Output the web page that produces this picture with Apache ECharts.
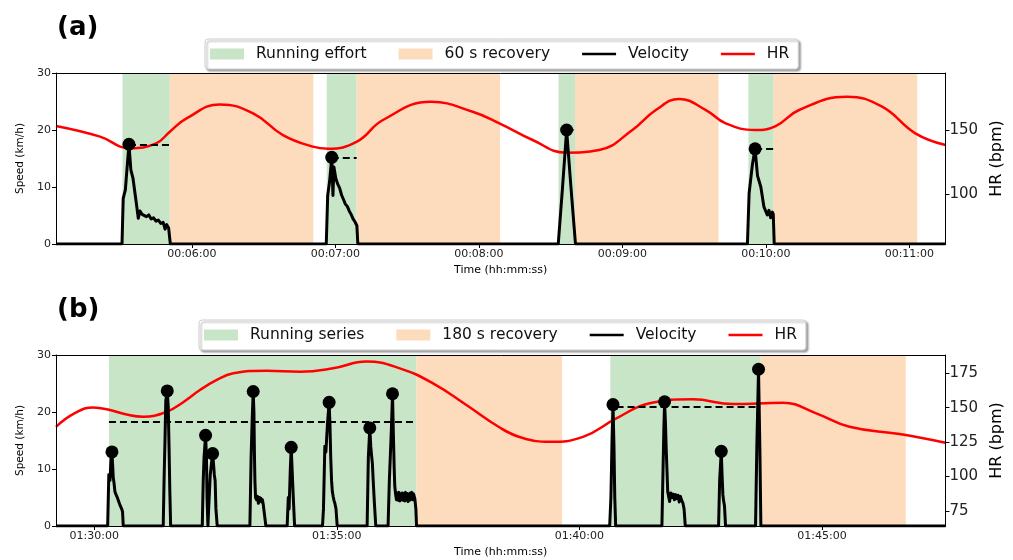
<!DOCTYPE html>
<html>
<head>
<meta charset="utf-8">
<script src="https://cdn.jsdelivr.net/npm/echarts@6/dist/echarts.min.js"></script>
<style>
  html, body { margin: 0; padding: 0; background: #fff; }
  #chart { width: 1013px; height: 560px; }
</style>
</head>
<body>
<div id="chart"></div>
<script>
// panel (a): single efforts, time in seconds
const rangeA = [303.2, 675.1];
const ticksA = [360, 420, 480, 540, 600, 660];
const effortA = [[331, 350.8], [416.4, 428.9], [513.3, 520.2], [592.7, 603.3]];
const recoveryA = [[350.8, 410.8], [428.9, 488.9], [520.2, 580.2], [603.3, 663.3]];
const velocityA = [
  [303.2, 0], [330.8, 0], [331.3, 8], [332.2, 9.5], [333.7, 17.5], [334.5, 13], [335.4, 11.5],
  [336.2, 9], [337.0, 6.5], [337.6, 4.5], [338.3, 5.8], [339.2, 5.2], [340.0, 5.5], [341.0, 4.8],
  [342.0, 5.1], [343.0, 4.4], [344.0, 4.6], [345.0, 4.0], [346.0, 4.2], [347.0, 3.6], [348.0, 3.8],
  [348.8, 2.6], [349.5, 3.4], [350.3, 2.8], [351.0, 0],
  [416.2, 0], [416.8, 8.5], [417.6, 11], [418.5, 15.2], [419.0, 8.5], [419.4, 13.5], [420.2, 11.5],
  [421.0, 10.5], [421.8, 9.8], [422.6, 8.6], [423.4, 7.8], [424.2, 7.0], [425.0, 6.6], [425.8, 5.8],
  [426.6, 5.2], [427.4, 4.4], [428.2, 3.9], [429.0, 3.2], [429.4, 0],
  [513.2, 0], [515.0, 10], [516.7, 20], [518.5, 10], [520.4, 0],
  [592.3, 0], [593.0, 8.9], [594.4, 14], [595.5, 16.7], [596.5, 12], [597.9, 10], [599.2, 6.5],
  [600.6, 5.1], [601.3, 5.9], [602.0, 4.6], [602.7, 5.6], [603.1, 5.2], [603.5, 0], [675.1, 0]
];
const peaksA = [[333.7, 17.5], [418.5, 15.2], [516.7, 20], [595.5, 16.7]];
const meanA = [[333.7, 350.8, 17.5], [418.5, 428.9, 15.2], [516.7, 520.2, 20], [595.5, 603.3, 16.7]];
const hrA = [
  [303.2, 153.1], [321.6, 144.8], [334.1, 135.7], [345, 139.5], [350.8, 148.7], [357.8, 159],
  [371.7, 170], [385.6, 163], [398.1, 146], [410.6, 137], [416.9, 135.4], [429, 140.9],
  [439.9, 157.8], [460, 172], [477.4, 164.3], [488.6, 155.2], [502.5, 142.2], [516.4, 132.3],
  [530.3, 134.4], [544.2, 150], [554, 165.6], [563.7, 174.2], [574.9, 165.6], [583.2, 155.2],
  [595.5, 150], [604.1, 153.1], [613.9, 165.6], [633.8, 176], [648.6, 168.2], [662.5, 147.4],
  [675.1, 138.3]
];

// panel (b): running series
const rangeB = [5352.7, 6452.8];
const ticksB = [5400, 5700, 6000, 6300];
const effortB = [[5418.2, 5798.6], [6038.3, 6223.7]];
const recoveryB = [[5798.6, 5978.6], [6223.7, 6403.7]];
const velocityB = [
  [5352.7, 0], [5416.6, 0], [5418.0, 9], [5419.5, 8], [5420.8, 12], [5421.9, 13], [5423.0, 10],
  [5423.5, 8.5], [5424.5, 7.5], [5425.6, 6], [5427.0, 5.5], [5428.5, 5], [5429.7, 4.5],
  [5431.5, 3.8], [5433.9, 3], [5435.0, 2.5], [5435.9, 0],
  [5485.3, 0], [5486.5, 9], [5487.5, 15], [5488.5, 22], [5490.3, 23.7], [5491.5, 21], [5492.5, 14],
  [5493.5, 6], [5494.5, 0],
  [5533.6, 0], [5534.8, 8], [5535.8, 12], [5537.7, 15.9], [5538.8, 12], [5539.5, 5], [5540.6, 0],
  [5541.5, 3], [5542.5, 6], [5543.5, 9], [5545.0, 11], [5546.4, 12.7], [5547.5, 11], [5548.5, 9],
  [5549.5, 8], [5550.5, 3], [5552.1, 0],
  [5592.5, 0], [5594.0, 12], [5595.4, 19], [5596.6, 23.6], [5597.5, 20], [5598.2, 12], [5598.7, 8],
  [5599.5, 5], [5600.8, 4.6], [5602.0, 5.2], [5603.0, 4.0], [5604.0, 5.0], [5605.0, 4.4],
  [5606.0, 4.9], [5607.0, 4.2], [5608.0, 4.6], [5609.0, 3.8], [5610.5, 3.5], [5612.3, 0],
  [5638.6, 0], [5640.0, 5], [5641.0, 3], [5642.5, 10], [5643.6, 13.8], [5645.0, 9], [5646.5, 4],
  [5647.8, 0],
  [5682.3, 0], [5683.5, 3], [5685.2, 14], [5686.5, 13], [5687.3, 15], [5688.5, 18], [5690.5, 21.7],
  [5691.5, 18], [5692.5, 12], [5693.5, 8], [5694.5, 6], [5695.5, 5.2], [5696.5, 4.5], [5697.6, 4],
  [5699.0, 3], [5700.5, 0],
  [5737.5, 0], [5739.0, 12], [5740.8, 17.2], [5742.0, 14], [5742.9, 12.5], [5744.0, 11],
  [5745.0, 8], [5746.5, 4], [5748.2, 0],
  [5763.4, 0], [5765.0, 8], [5766.4, 13], [5767.5, 17], [5768.9, 23.2], [5770.0, 16], [5771.0, 10],
  [5771.7, 7], [5772.8, 5.5], [5773.8, 4.6], [5775, 5.8], [5776, 4.5], [5777, 5.9], [5778, 4.4],
  [5779, 5.6], [5780, 4.6], [5781, 5.8], [5782, 4.5], [5783, 5.7], [5784, 4.4], [5785, 5.9],
  [5786, 4.6], [5787, 5.7], [5788, 4.3], [5789, 5.6], [5790, 4.5], [5791, 5.8], [5792, 4.7],
  [5793, 5.9], [5794, 4.6], [5795, 5.6], [5796.5, 4.8], [5797.8, 3], [5798.6, 0],
  [6037.5, 0], [6039.0, 5], [6040.3, 14], [6041.6, 21.3], [6042.8, 14], [6043.8, 5], [6044.9, 0],
  [6102.1, 0], [6103.5, 10], [6104.5, 17], [6105.4, 21.8], [6106.5, 18], [6107.3, 14],
  [6108.3, 10], [6109.3, 6], [6110.4, 5.2], [6111.6, 4.3], [6113, 5.8], [6114.5, 5.0], [6116, 5.6],
  [6117.5, 4.6], [6119, 5.5], [6120.5, 4.8], [6122, 5.4], [6123.5, 4.2], [6125, 5.2],
  [6126.5, 4.5], [6128.1, 4.0], [6129.5, 3], [6131, 0],
  [6172.2, 0], [6173.5, 8], [6175.5, 13.1], [6176.5, 9], [6177.5, 5.5], [6178.3, 4.5],
  [6179.5, 3.5], [6180.8, 0],
  [6217.9, 0], [6219.5, 14], [6221.6, 27.5], [6223.2, 14], [6224.5, 0], [6452.8, 0]
];
const peaksB = [
  [5421.9, 13], [5490.3, 23.7], [5537.7, 15.9], [5546.4, 12.7], [5596.6, 23.6], [5643.6, 13.8],
  [5690.5, 21.7], [5740.8, 17.2], [5768.9, 23.2], [6041.6, 21.3], [6105.4, 21.8], [6175.5, 13.1],
  [6221.6, 27.5]
];
const meanB = [[5418.2, 5798.6, 18.3], [6046, 6223.7, 20.9]];
const hrB = [
  [5352.7, 136.1], [5376, 146], [5398.8, 150.2], [5419.4, 148.3], [5440, 145], [5460.6, 143.4],
  [5489.5, 147], [5510, 154], [5530.7, 162.8], [5551, 170], [5571.9, 175], [5613.1, 176.9],
  [5654.3, 176.2], [5695.4, 178.6], [5736.7, 183.5], [5777.9, 178.6], [5819, 167.7],
  [5860.3, 151.9], [5901.5, 135.6], [5930, 128], [5963.3, 125.2], [6004.5, 128.8],
  [6045.7, 142.2], [6086.9, 153.2], [6140.4, 156.1], [6189.8, 152.6], [6251.6, 153.6],
  [6292.9, 145.9], [6334.1, 136.1], [6395.9, 130.8], [6452.8, 124.5]
];

const FONT = 'DejaVu Sans';
const GREEN = '#c9e5c8';
const ORANGE = '#fddbbd';
const LINE_ICON = 'path://M0,0L40,0L40,3L0,3Z';

function hms(v) {
  const s = Math.round(v);
  const p = n => String(n).padStart(2, '0');
  return p(Math.floor(s / 3600)) + ':' + p(Math.floor(s / 60) % 60) + ':' + p(s % 60);
}

function xAxes(gi, range, ticks) {
  return [{
    type: 'value', gridIndex: gi, min: range[0], max: range[1], z: 5,
    name: 'Time (hh:mm:ss)', nameLocation: 'middle', nameGap: 21,
    nameTextStyle: { fontFamily: FONT, fontSize: 11, color: '#000' },
    axisLine: { onZero: false, lineStyle: { color: '#000', width: 1 } },
    axisTick: { show: true, length: 4, customValues: ticks, lineStyle: { color: '#000' } },
    axisLabel: { customValues: ticks, formatter: hms, fontFamily: FONT, fontSize: 11, color: '#222', margin: 5 },
    splitLine: { show: false }
  }, {
    type: 'value', gridIndex: gi, position: 'top', min: range[0], max: range[1], z: 5,
    axisLine: { onZero: false, lineStyle: { color: '#000', width: 1 } },
    axisTick: { show: false }, axisLabel: { show: false }, splitLine: { show: false }
  }];
}

function yAxes(gi, hrRange, hrTicks) {
  return [{
    type: 'value', gridIndex: gi, min: 0, max: 30, interval: 10, z: 5,
    name: 'Speed (km/h)', nameLocation: 'middle', nameGap: 28,
    nameTextStyle: { fontFamily: FONT, fontSize: 10.5, color: '#000' },
    axisLine: { show: true, onZero: false, lineStyle: { color: '#000' } },
    axisTick: { show: true, length: 4, lineStyle: { color: '#000' } },
    axisLabel: { fontFamily: FONT, fontSize: 11, color: '#222', margin: 5 },
    splitLine: { show: false }
  }, {
    type: 'value', gridIndex: gi, position: 'right', min: hrRange[0], max: hrRange[1], z: 5,
    name: 'HR (bpm)', nameLocation: 'middle', nameGap: 42,
    nameTextStyle: { fontFamily: FONT, fontSize: 16, color: '#000' },
    axisLine: { show: true, onZero: false, lineStyle: { color: '#000' } },
    axisTick: { show: true, length: 4, customValues: hrTicks, lineStyle: { color: '#000' } },
    axisLabel: { customValues: hrTicks, fontFamily: FONT, fontSize: 15, color: '#222', margin: 4 },
    splitLine: { show: false }
  }];
}

function bandSeries(name, bands, color, xi, yi) {
  return {
    name: name, type: 'line', xAxisIndex: xi, yAxisIndex: yi, data: [], z: 1,
    markArea: {
      silent: true,
      itemStyle: { color: color },
      data: bands.map(b => [{ xAxis: b[0] }, { xAxis: b[1] }])
    }
  };
}

function panelSeries(names, effort, recovery, velocity, peaks, means, hr, xi, yi) {
  return [
    bandSeries(names[0], effort, GREEN, xi, yi),
    bandSeries(names[1], recovery, ORANGE, xi, yi),
    {
      name: 'HR', type: 'line', xAxisIndex: xi, yAxisIndex: yi + 1, data: hr,
      smooth: 0.45, symbol: 'none', z: 2,
      lineStyle: { color: '#ff0000', width: 2.5 }, itemStyle: { color: '#ff0000' }
    },
    {
      name: 'Velocity', type: 'line', xAxisIndex: xi, yAxisIndex: yi, data: velocity,
      symbol: 'none', z: 3,
      lineStyle: { color: '#000', width: 3, join: 'round' }, itemStyle: { color: '#000' }
    },
    {
      name: 'mean', type: 'line', xAxisIndex: xi, yAxisIndex: yi, data: [], z: 3,
      markLine: {
        silent: true, symbol: 'none', label: { show: false },
        lineStyle: { color: '#000', width: 2, type: [7, 4] },
        data: means.map(m => [{ coord: [m[0], m[2]] }, { coord: [m[1], m[2]] }])
      }
    },
    {
      name: 'peak', type: 'scatter', xAxisIndex: xi, yAxisIndex: yi, data: peaks,
      symbolSize: 13, z: 4, itemStyle: { color: '#000', opacity: 1 }
    }
  ];
}

function legend(left, top, names) {
  return {
    left: left, top: top, orient: 'horizontal',
    backgroundColor: '#fff', borderColor: '#cfcfcf', borderWidth: 1, borderRadius: 3,
    shadowColor: 'rgba(0,0,0,0.35)', shadowBlur: 2, shadowOffsetX: 2, shadowOffsetY: 2,
    padding: [7, 9, 7, 5], itemGap: 32, itemWidth: 34, itemHeight: 11,
    textStyle: { fontFamily: FONT, fontSize: 15.5, color: '#111', padding: [0, 0, 0, 7] },
    data: [
      { name: names[0], icon: 'rect', itemStyle: { color: GREEN } },
      { name: names[1], icon: 'rect', itemStyle: { color: ORANGE } },
      { name: 'Velocity', icon: LINE_ICON, itemStyle: { color: '#000' } },
      { name: 'HR', icon: LINE_ICON, itemStyle: { color: '#ff0000' } }
    ],
    selectedMode: false
  };
}

const chart = echarts.init(document.getElementById('chart'), null, { renderer: 'canvas' });
chart.setOption({
  animation: false,
  backgroundColor: '#fff',
  title: [
    { text: '(a)', left: 52, top: 10, textStyle: { fontFamily: FONT, fontSize: 26, fontWeight: 'bold', color: '#000' } },
    { text: '(b)', left: 52, top: 292, textStyle: { fontFamily: FONT, fontSize: 26, fontWeight: 'bold', color: '#000' } }
  ],
  legend: [
    legend(205, 39, ['Running effort', '60 s recovery']),
    legend(199, 320, ['Running series', '180 s recovery'])
  ],
  grid: [
    { left: 56, right: 67, top: 73, height: 171 },
    { left: 56, right: 67, top: 355, height: 171 }
  ],
  xAxis: [].concat(xAxes(0, rangeA, ticksA), xAxes(1, rangeB, ticksB)),
  yAxis: [].concat(yAxes(0, [61, 194.5], [100, 150]), yAxes(1, [64, 188.3], [75, 100, 125, 150, 175])),
  series: [].concat(
    panelSeries(['Running effort', '60 s recovery'], effortA, recoveryA, velocityA, peaksA, meanA, hrA, 0, 0),
    panelSeries(['Running series', '180 s recovery'], effortB, recoveryB, velocityB, peaksB, meanB, hrB, 2, 2)
  )
});
</script>
</body>
</html>
